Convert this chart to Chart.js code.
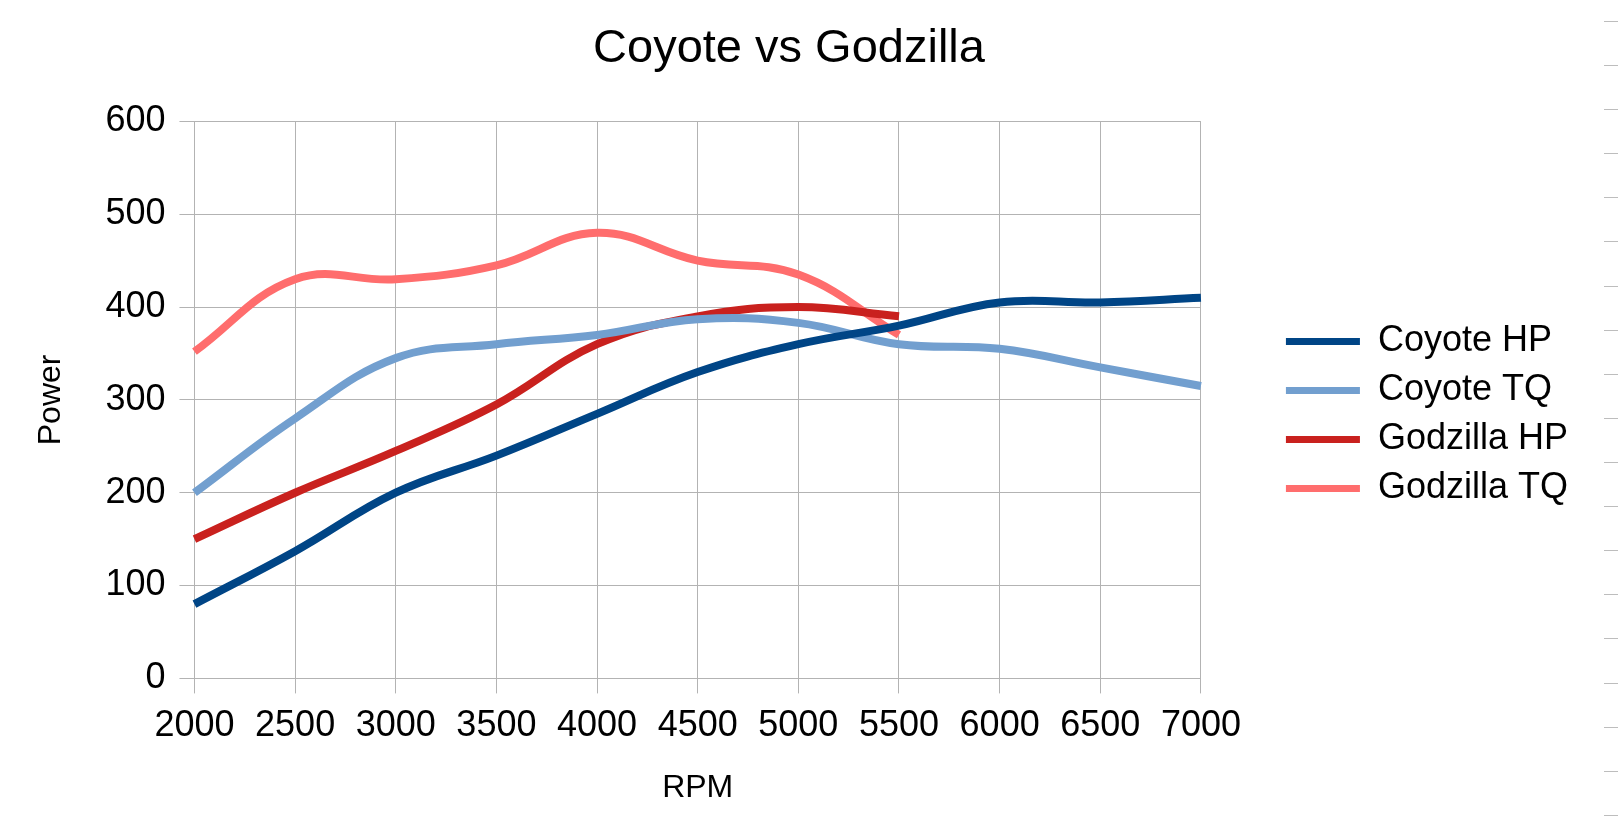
<!DOCTYPE html>
<html>
<head>
<meta charset="utf-8">
<title>Coyote vs Godzilla</title>
<script src="https://cdn.jsdelivr.net/npm/chart.js@4/dist/chart.umd.min.js"></script>
<style>
  html, body { margin: 0; padding: 0; background: #ffffff; }
  #wrap { width: 1618px; height: 824px; }
</style>
</head>
<body>
<div id="wrap"><canvas id="powerChart" width="1618" height="824"></canvas></div>
<script>
// Chart data
const rpmLabels = ['2000', '2500', '3000', '3500', '4000', '4500', '5000', '5500', '6000', '6500', '7000'];
const coyoteHP = [80, 137, 200, 240, 285, 330, 360, 380, 405, 405, 410];
const coyoteTQ = [200, 280, 345, 360, 370, 387, 383, 360, 355, 335, 315];
const godzillaHP = [150, 200, 245, 295, 360, 390, 400, 390];
const godzillaTQ = [352, 430, 430, 445, 480, 450, 435, 370];
const seriesNames = ['Coyote HP', 'Coyote TQ', 'Godzilla HP', 'Godzilla TQ'];
const seriesColors = ['#004586', '#729fcf', '#c9211e', '#ff6d6d'];

const gridGray = '#b3b3b3';
const fontFamily = '"Liberation Sans", Arial, sans-serif';

// Small ruler marks along the right edge of the reference image
const edgeMarks = {
    id: 'edgeMarks',
    afterDraw(chart) {
        const ctx = chart.ctx;
        ctx.save();
        ctx.strokeStyle = '#bdbdbd';
        ctx.lineWidth = 1;
        for (let y = 21; y < 824; y += 44.1) {
            ctx.beginPath();
            ctx.moveTo(1604, Math.round(y) + 0.5);
            ctx.lineTo(1618, Math.round(y) + 0.5);
            ctx.stroke();
        }
        ctx.restore();
    }
};

function makeDataset(i, values) {
    return {
        label: seriesNames[i],
        data: values,
        borderColor: seriesColors[i],
        backgroundColor: seriesColors[i],
        borderWidth: 8,
        pointRadius: 0,
        pointHoverRadius: 0,
        tension: 0.4,
        fill: false
    };
}

const ctx = document.getElementById('powerChart').getContext('2d');
window.myChart = new Chart(ctx, {
    type: 'line',
    data: {
        labels: rpmLabels,
        datasets: [
            makeDataset(0, coyoteHP),
            makeDataset(1, coyoteTQ),
            makeDataset(2, godzillaHP),
            makeDataset(3, godzillaTQ)
        ]
    },
    options: {
        responsive: false,
        animation: false,
        devicePixelRatio: 1,
        layout: { padding: { left: 0, right: 40, top: 6, bottom: 0 } },
        plugins: {
            title: {
                display: true,
                text: 'Coyote vs Godzilla',
                color: '#000000',
                font: { family: fontFamily, size: 47, weight: 'normal' },
                padding: { top: 15, bottom: 44 }
            },
            legend: {
                position: 'right',
                align: 'center',
                maxWidth: 400,
                labels: {
                    color: '#000000',
                    font: { family: fontFamily, size: 36 },
                    boxWidth: 74,
                    boxHeight: 7,
                    padding: 13,
                    generateLabels(chart) {
                        return chart.data.datasets.map((ds, i) => ({
                            text: ds.label,
                            fillStyle: ds.borderColor,
                            strokeStyle: ds.borderColor,
                            lineWidth: 0,
                            fontColor: '#000000',
                            hidden: false,
                            datasetIndex: i
                        }));
                    }
                }
            },
            tooltip: { enabled: false }
        },
        scales: {
            x: {
                type: 'category',
                offset: false,
                grid: { color: gridGray, lineWidth: 1, tickLength: 15, tickColor: gridGray },
                border: { color: gridGray },
                ticks: {
                    color: '#000000',
                    font: { family: fontFamily, size: 36 },
                    padding: 11,
                    maxRotation: 0,
                    autoSkip: false
                },
                title: {
                    display: true,
                    text: 'RPM',
                    color: '#000000',
                    font: { family: fontFamily, size: 32 },
                    padding: { top: 10, bottom: 17 }
                }
            },
            y: {
                min: 0,
                max: 600,
                grid: { color: gridGray, lineWidth: 1, tickLength: 15, tickColor: gridGray },
                border: { color: gridGray },
                ticks: {
                    stepSize: 100,
                    color: '#000000',
                    font: { family: fontFamily, size: 36 },
                    padding: 14
                },
                title: {
                    display: true,
                    text: 'Power',
                    color: '#000000',
                    font: { family: fontFamily, size: 32 },
                    padding: { top: 32, bottom: 21 }
                }
            },
            // empty axis, only keeps a gap between the plot and the legend
            gap: {
                position: 'right',
                display: true,
                grid: { display: false },
                border: { display: false },
                ticks: { display: false },
                afterFit(scale) { scale.width = 72; }
            }
        }
    },
    plugins: [edgeMarks]
});
</script>
</body>
</html>
